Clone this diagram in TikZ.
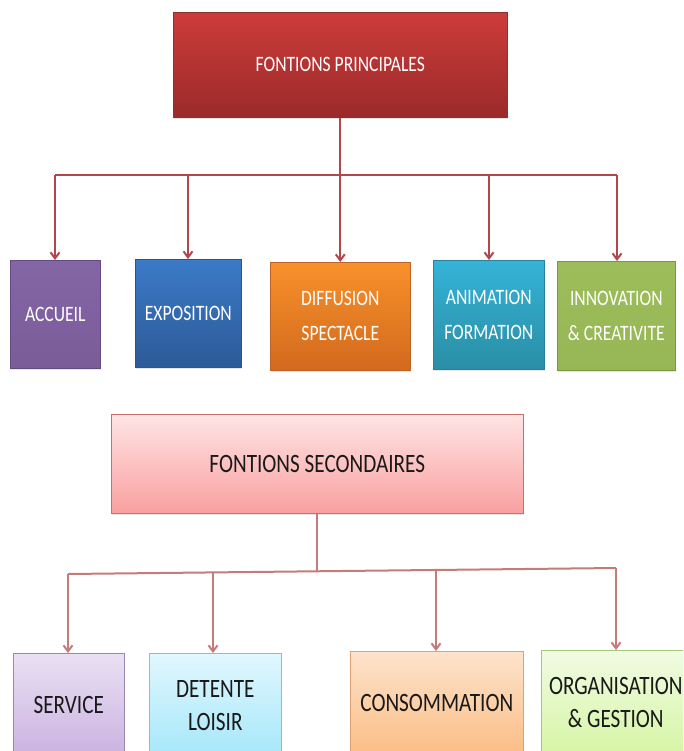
\documentclass[tikz,border=0pt]{standalone}
\usepackage{fontspec}
\setmainfont{Carlito}[FakeStretch=0.8]
\usetikzlibrary{arrows.meta,shadows}
\definecolor{arrA}{HTML}{B2464A}
\definecolor{arrB}{HTML}{C67B7B}
\definecolor{topD}{HTML}{8C3030}\definecolor{topT}{HTML}{CC3C3A}\definecolor{topB}{HTML}{9B2A2A}
\definecolor{accD}{HTML}{644C80}\definecolor{accT}{HTML}{8466A6}\definecolor{accB}{HTML}{7A5C99}
\definecolor{expD}{HTML}{2D558C}\definecolor{expT}{HTML}{3B7AC8}\definecolor{expB}{HTML}{2D5A97}
\definecolor{difD}{HTML}{BE6428}\definecolor{difT}{HTML}{F8912B}\definecolor{difB}{HTML}{D2691D}
\definecolor{aniD}{HTML}{28829B}\definecolor{aniT}{HTML}{35B3D7}\definecolor{aniB}{HTML}{2A8EA5}
\definecolor{innD}{HTML}{789644}\definecolor{innT}{HTML}{9DBD5B}\definecolor{innB}{HTML}{97B655}
\definecolor{secD}{HTML}{CD6E6E}\definecolor{secT}{HTML}{FFE4E4}\definecolor{secB}{HTML}{F9A0A0}
\definecolor{serD}{HTML}{9C86B4}\definecolor{serT}{HTML}{EAE0F3}\definecolor{serB}{HTML}{CAB2E0}
\definecolor{detD}{HTML}{7BC4DA}\definecolor{detT}{HTML}{E1F7FE}\definecolor{detB}{HTML}{A5E7FA}
\definecolor{conD}{HTML}{E0A070}\definecolor{conT}{HTML}{FDE3CC}\definecolor{conB}{HTML}{FBBD85}
\definecolor{orgD}{HTML}{A6C77A}\definecolor{orgT}{HTML}{F1FBE3}\definecolor{orgB}{HTML}{D6F5A5}
\tikzset{
  box/.style={draw=#1D, top color=#1T, bottom color=#1B, line width=0.6pt, anchor=north west, inner sep=0pt, align=center,
    drop shadow={opacity=0.2, shadow xshift=1pt, shadow yshift=-1.5pt}},
  toptext/.style={text=white, font=\fontsize{22}{35}\selectfont},
  bottext/.style={text=black!90, font=\fontsize{26.5}{33}\selectfont},
  arrtop/.style={draw=arrA, line width=2pt, -{Straight Barb[length=6pt,width=9pt]}},
  linetop/.style={draw=arrA, line width=2pt},
  arrbot/.style={draw=arrB, line width=2pt, -{Straight Barb[length=6pt,width=9pt]}},
  linebot/.style={draw=arrB, line width=2pt},
}
\begin{document}
\begin{tikzpicture}[x=1pt,y=-1pt]
\clip (0,0) rectangle (683,751);
\useasboundingbox (0,0) rectangle (683,751);
\fill[white] (0,0) rectangle (683,751);

% Top level
\node[box=top, minimum width=334pt, minimum height=105pt, toptext] (top) at (173,12) {FONTIONS PRINCIPALES};

\node[box=acc, minimum width=90pt, minimum height=108pt, toptext] (acc) at (10,260) {ACCUEIL};
\node[box=exp, minimum width=106pt, minimum height=108pt, toptext] (expo) at (135,259) {EXPOSITION};
\node[box=dif, minimum width=140pt, minimum height=108pt, toptext] (diff) at (270,262) {DIFFUSION\\SPECTACLE};
\node[box=ani, minimum width=111pt, minimum height=109pt, toptext] (anim) at (433,260) {ANIMATION\\FORMATION};
\node[box=inn, minimum width=118pt, minimum height=109pt, toptext] (innov) at (557,261) {INNOVATION\\\& CREATIVITE};

\coordinate (b1) at (55,175);
\coordinate (b2) at (188,175);
\coordinate (b4) at (489,175);
\coordinate (b5) at (617,175);
\draw[arrtop] (top.south) -- (diff.north);
\draw[linetop] (b1) -- (b5);
\draw[arrtop] (b1) -- (b1 |- acc.north);
\draw[arrtop] (b2) -- (b2 |- expo.north);
\draw[arrtop] (b4) -- (b4 |- anim.north);
\draw[arrtop] (b5) -- (b5 |- innov.north);

% Secondary level
\node[box=sec, minimum width=412pt, minimum height=99pt, bottext] (sec) at (111,414) {FONTIONS SECONDAIRES};

\node[box=ser, minimum width=111pt, minimum height=104pt, bottext] (serv) at (13,653) {SERVICE};
\node[box=det, minimum width=132pt, minimum height=104pt, bottext] (det) at (149,653) {DETENTE\\LOISIR};
\node[box=con, minimum width=173pt, minimum height=104pt, bottext] (cons) at (350,651) {CONSOMMATION};
\node[box=org, minimum width=149pt, minimum height=104pt, bottext] (org) at (541,650) {ORGANISATION\\\& GESTION};

\coordinate (c1) at (68,574);
\coordinate (c2) at (213,573);
\coordinate (c0) at (317,572);
\coordinate (c3) at (436,570);
\coordinate (c4) at (616,568);
\draw[linebot] (sec.south -| c0) -- (c0);
\draw[linebot] (c1) -- (c4);
\draw[arrbot] (c1) -- (c1 |- serv.north);
\draw[arrbot] (c2) -- (c2 |- det.north);
\draw[arrbot] (c3) -- (c3 |- cons.north);
\draw[arrbot] (c4) -- (c4 |- org.north);
\end{tikzpicture}
\end{document}
